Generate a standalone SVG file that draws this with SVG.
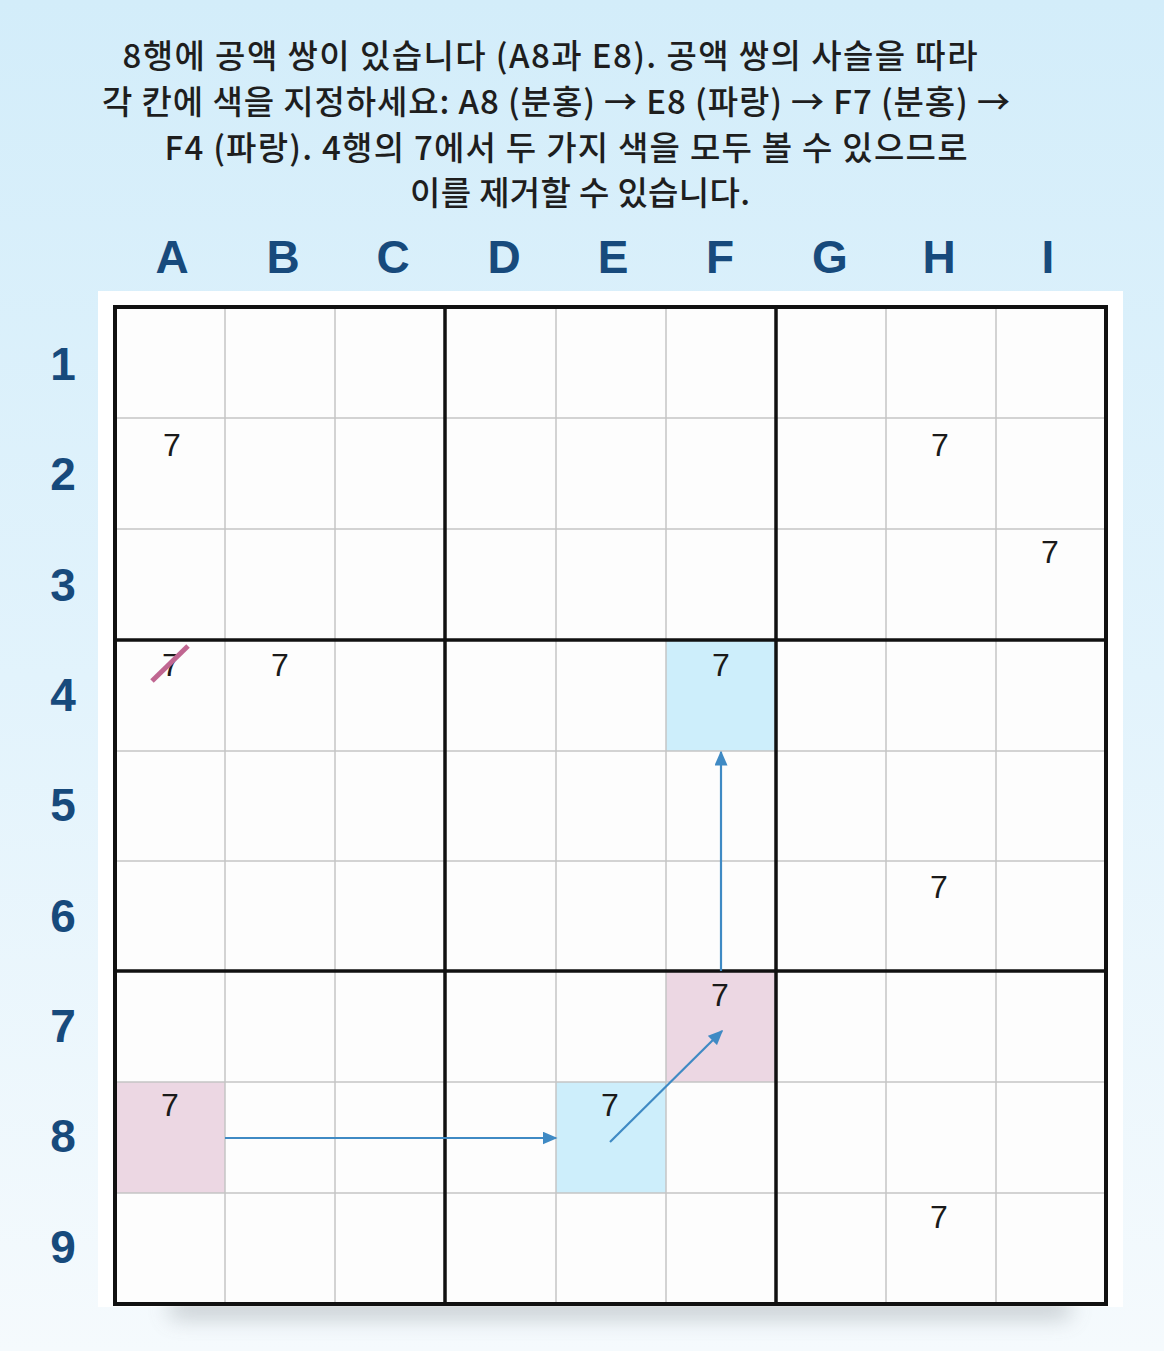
<svg xmlns="http://www.w3.org/2000/svg" width="1164" height="1351" viewBox="0 0 1164 1351">
<defs>
<linearGradient id="bg" x1="0" y1="0" x2="0" y2="1">
<stop offset="0" stop-color="#d3edfa"/>
<stop offset="0.5" stop-color="#e2f3fc"/>
<stop offset="1" stop-color="#f5fafd"/>
</linearGradient>
<filter id="blur" x="-20%" y="-300%" width="140%" height="700%"><feGaussianBlur stdDeviation="11"/></filter>
<marker id="arr" viewBox="0 0 10 10" refX="9" refY="5" markerWidth="15" markerHeight="13" markerUnits="userSpaceOnUse" orient="auto" preserveAspectRatio="none">
<path d="M0,0 L10,5 L0,10 z" fill="#3f8ac4"/>
</marker>
<style>
.title{font-family:"Noto Sans CJK KR","Noto Sans",sans-serif;font-size:33px;font-weight:500;fill:#1e1e1e;text-anchor:middle}
.hdr{font-family:"Liberation Sans",Arial,sans-serif;font-size:46px;font-weight:bold;fill:#174a7c;text-anchor:middle}
.dig{font-family:"Liberation Sans",Arial,sans-serif;font-size:32px;fill:#1a1a1a;text-anchor:middle}
.thin{stroke:#c4c4c4;stroke-width:1.5}
.thick{stroke:#111;stroke-width:3.5}
.conn{stroke:#3f8ac4;stroke-width:2.2;fill:none}
.blue{fill:#cdeefb}
.pink{fill:#ecd7e3}
</style>
</defs>
<rect x="0" y="0" width="1164" height="1351" fill="url(#bg)"/>
<g id="title">
<text class="title" x="550" y="68" textLength="855" lengthAdjust="spacing">8행에 공액 쌍이 있습니다 (A8과 E8). 공액 쌍의 사슬을 따라</text>
<text class="title" x="556" y="114" textLength="908" lengthAdjust="spacing">각 칸에 색을 지정하세요: A8 (분홍) → E8 (파랑) → F7 (분홍) →</text>
<text class="title" x="566" y="160" textLength="803" lengthAdjust="spacing">F4 (파랑). 4행의 7에서 두 가지 색을 모두 볼 수 있으므로</text>
<text class="title" x="580" y="205" textLength="340" lengthAdjust="spacing">이를 제거할 수 있습니다.</text>
</g>
<g id="col-labels">
<text class="hdr" x="172" y="273">A</text>
<text class="hdr" x="283" y="273">B</text>
<text class="hdr" x="393" y="273">C</text>
<text class="hdr" x="504" y="273">D</text>
<text class="hdr" x="613" y="273">E</text>
<text class="hdr" x="720" y="273">F</text>
<text class="hdr" x="830" y="273">G</text>
<text class="hdr" x="939" y="273">H</text>
<text class="hdr" x="1048" y="273">I</text>
</g>
<g id="row-labels">
<text class="hdr" x="63" y="380">1</text>
<text class="hdr" x="63" y="490">2</text>
<text class="hdr" x="63" y="601">3</text>
<text class="hdr" x="63" y="711">4</text>
<text class="hdr" x="63" y="821">5</text>
<text class="hdr" x="63" y="932">6</text>
<text class="hdr" x="63" y="1042">7</text>
<text class="hdr" x="63" y="1152">8</text>
<text class="hdr" x="63" y="1263">9</text>
</g>
<g id="board">
<rect x="98" y="291" width="1025" height="1016" fill="#ffffff"/>
<rect x="170" y="1298" width="900" height="20" fill="#7a8288" opacity="0.4" filter="url(#blur)"/>
<rect x="115" y="307" width="991" height="997" fill="#fdfdfd"/>
</g>
<g id="cells">
<rect id="F4" class="blue" x="666" y="641" width="110" height="110"/>
<rect id="F7" class="pink" x="666" y="972" width="110" height="110"/>
<rect id="A8" class="pink" x="115" y="1082" width="110" height="111"/>
<rect id="E8" class="blue" x="556" y="1082" width="110" height="111"/>
</g>
<g id="gridlines">
<line class="thin" x1="225" y1="307" x2="225" y2="1304"/>
<line class="thin" x1="335" y1="307" x2="335" y2="1304"/>
<line class="thin" x1="556" y1="307" x2="556" y2="1304"/>
<line class="thin" x1="666" y1="307" x2="666" y2="1304"/>
<line class="thin" x1="886" y1="307" x2="886" y2="1304"/>
<line class="thin" x1="996" y1="307" x2="996" y2="1304"/>
<line class="thin" x1="115" y1="418" x2="1106" y2="418"/>
<line class="thin" x1="115" y1="529" x2="1106" y2="529"/>
<line class="thin" x1="115" y1="751" x2="1106" y2="751"/>
<line class="thin" x1="115" y1="861" x2="1106" y2="861"/>
<line class="thin" x1="115" y1="1082" x2="1106" y2="1082"/>
<line class="thin" x1="115" y1="1193" x2="1106" y2="1193"/>
<line class="thick" x1="445" y1="307" x2="445" y2="1304"/>
<line class="thick" x1="776" y1="307" x2="776" y2="1304"/>
<line class="thick" x1="115" y1="640" x2="1106" y2="640"/>
<line class="thick" x1="115" y1="971" x2="1106" y2="971"/>
<rect x="115" y="307" width="991" height="997" fill="none" stroke="#111" stroke-width="4"/>
</g>
<g id="digits">
<text class="dig" x="172" y="456">7</text>
<text class="dig" x="940" y="456">7</text>
<text class="dig" x="1050" y="563">7</text>
<text class="dig" x="171" y="676">7</text>
<text class="dig" x="280" y="676">7</text>
<text class="dig" x="721" y="676">7</text>
<text class="dig" x="939" y="898">7</text>
<text class="dig" x="720" y="1006">7</text>
<text class="dig" x="170" y="1116">7</text>
<text class="dig" x="610" y="1116">7</text>
<text class="dig" x="939" y="1228">7</text>
</g>
<g id="connectors">
<line class="conn" x1="225" y1="1138" x2="556" y2="1138" marker-end="url(#arr)"/>
<line class="conn" x1="610" y1="1142" x2="722" y2="1031" marker-end="url(#arr)"/>
<line class="conn" x1="721" y1="971" x2="721" y2="752" marker-end="url(#arr)"/>
</g>
<g id="strike">
<line x1="152" y1="681" x2="188" y2="646" stroke="#c06691" stroke-width="5"/>
</g>
</svg>
